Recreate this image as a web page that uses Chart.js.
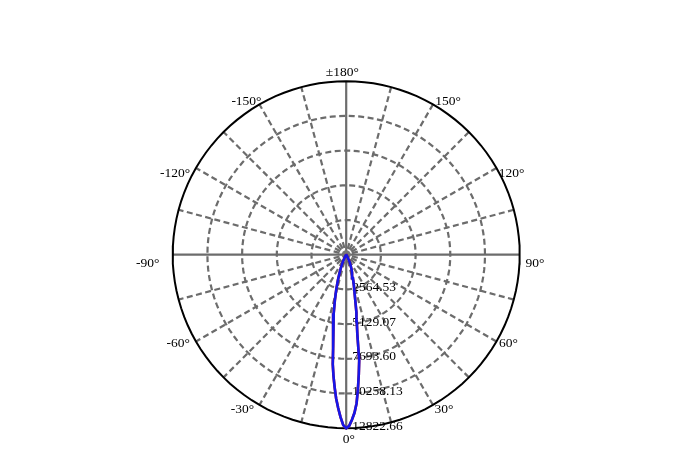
<!DOCTYPE html>
<html>
<head>
<meta charset="utf-8">
<script src="https://cdn.jsdelivr.net/npm/chart.js@4.4.1/dist/chart.umd.min.js"></script>
<style>
  html, body { margin: 0; padding: 0; background: #fff; }
  canvas { display: block; }
</style>
</head>
<body>
<canvas id="polar" width="699" height="457"></canvas>
<script>
// Intensity rings (cd), the last one is the outer circle
const ringValues = [2564.53, 5129.07, 7693.60, 10258.13, 12822.66];
const maxValue = 12822.66;

// Angle labels round the circle, 0° points down
const tickAngles = [0, 30, 60, 90, 120, 150, 180, -150, -120, -90, -60, -30];
const tickLabels = ['0°', '30°', '60°', '90°', '120°', '150°', '±180°', '-150°', '-120°', '-90°', '-60°', '-30°'];

// Grid spokes every 15°, each one a full diameter
const spokeAngles = [0, 15, 30, 45, 60, 75, 90, 105, 120, 135, 150, 165];

// Beam curve (angle in degrees, intensity in cd)
const beamAngles = [-180, -90, -60, -40, -30, -25, -22, -20, -18, -16, -14, -12, -10, -9, -8, -7, -6, -5, -4, -3, -2, -1,
  0,
  1, 2, 3, 4, 5, 6, 7, 8, 9, 10, 12, 14, 16, 18, 20, 22, 25, 30, 40, 60, 90, 180];
const beamIntensity = [0, 0, 0, 40, 200, 600, 1050, 1450, 2000, 2650, 3450, 4450, 5550, 6150, 7000, 8150, 9000, 9820, 10650, 11350, 12013, 12600,
  12822.66,
  12650, 12200, 11700, 11000, 9950, 8900, 7880, 5900, 5000, 4350, 3050, 2350, 1800, 1400, 1150, 900, 600, 200, 40, 0, 0, 0];

const FONT = '13.5px "Liberation Serif", "DejaVu Serif", serif';
const GRID = '#6c6c6c';
const DASH = [6, 3.5];

// polar -> chart coordinates (0° down, positive angles to the right)
const toXY = (angle, value) => {
    const rad = angle * Math.PI / 180;
    return { x: value * Math.sin(rad), y: -value * Math.cos(rad) };
}
const circlePoints = (value) => {
    let pts = [];
    for (let a = 0; a <= 360; a += 3) pts.push(toXY(a, value));
    return pts;
}

const datasets = [];
// curves on top
datasets.push({
    label: 'C90-C270',
    data: beamAngles.map((a, i) => toXY(a, beamIntensity[i])),
    borderColor: '#1616e8', borderWidth: 2.6, order: 0
});
datasets.push({
    label: 'C0-C180',
    data: beamAngles.map((a, i) => toXY(a, beamIntensity[i])),
    borderColor: '#c81818', borderWidth: 2.6, order: 1
});
datasets.push({
    label: 'outer',
    data: circlePoints(maxValue),
    borderColor: '#000', borderWidth: 2, order: 2
});
ringValues.slice(0, -1).forEach(v => {
    datasets.push({
        label: 'ring',
        data: circlePoints(v),
        borderColor: GRID, borderWidth: 2.2, borderDash: DASH, order: 3
    });
});
spokeAngles.forEach(a => {
    datasets.push({
        label: 'spoke',
        data: [toXY(a, maxValue), toXY(a + 180, maxValue)],
        borderColor: GRID, borderWidth: 2.2,
        borderDash: a % 90 === 0 ? [] : DASH, order: 4
    });
});
datasets.forEach(d => {
    d.showLine = true;
    d.pointRadius = 0;
    d.fill = false;
    d.clip = false;
});
// grey hub where the spokes meet
datasets.push({
    label: 'hub',
    data: [{ x: 0, y: 0 }],
    showLine: false,
    pointRadius: 4.5,
    pointBackgroundColor: '#777',
    pointBorderWidth: 0,
    clip: false,
    order: 2.5
});

// small nudges so the degree labels sit where the picture has them
const labelNudge = {
    '0': [2.6, -1], '30': [5, -6], '60': [1.5, -4], '90': [3.3, 8.3],
    '120': [4.7, 12], '150': [9, 7.6], '180': [-3.9, 2.8], '-150': [-7, 7.6],
    '-120': [-10.6, 12], '-90': [-13, 8.3], '-60': [-7.3, -3.5], '-30': [-11, -6.3]
};

const labelPlugin = {
    id: 'polarLabels',
    afterDatasetDraw(chart, args) {
        if (chart.data.datasets[args.index].label !== 'outer') return;
        const ctx = chart.ctx;
        const xs = chart.scales.x, ys = chart.scales.y;
        const cx = xs.getPixelForValue(0), cy = ys.getPixelForValue(0);
        const pxPer = (xs.getPixelForValue(maxValue) - cx) / maxValue;
        ctx.save();
        ctx.font = FONT;
        ctx.fillStyle = '#000';
        ctx.textAlign = 'left';
        ctx.textBaseline = 'middle';
        ringValues.forEach(v => {
            ctx.fillText(v.toFixed(2), cx + 6, cy + v * pxPer - 2);
        });
        ctx.restore();
    },
    afterDraw(chart) {
        const ctx = chart.ctx;
        const xs = chart.scales.x, ys = chart.scales.y;
        const cx = xs.getPixelForValue(0), cy = ys.getPixelForValue(0);
        const R = xs.getPixelForValue(maxValue) - cx;
        ctx.save();
        ctx.font = FONT;
        ctx.fillStyle = '#000';
        ctx.textAlign = 'center';
        ctx.textBaseline = 'middle';
        tickAngles.forEach((a, i) => {
            const rad = a * Math.PI / 180;
            const n = labelNudge[String(a)];
            ctx.fillText(tickLabels[i], cx + (R + 12) * Math.sin(rad) + n[0], cy + (R + 12) * Math.cos(rad) + n[1]);
        });
        ctx.restore();
    }
};

const polarChart = new Chart(document.getElementById('polar'), {
    type: 'scatter',
    data: { datasets: datasets },
    options: {
        responsive: false,
        animation: false,
        layout: { padding: { left: 172.7, right: 179.3, top: 81.2, bottom: 28.8 } },
        scales: {
            x: { type: 'linear', min: -maxValue, max: maxValue, display: false },
            y: { type: 'linear', min: -maxValue, max: maxValue, display: false }
        },
        elements: { line: { tension: 0 } },
        plugins: { legend: { display: false }, tooltip: { enabled: false } }
    },
    plugins: [labelPlugin]
});
</script>
</body>
</html>
